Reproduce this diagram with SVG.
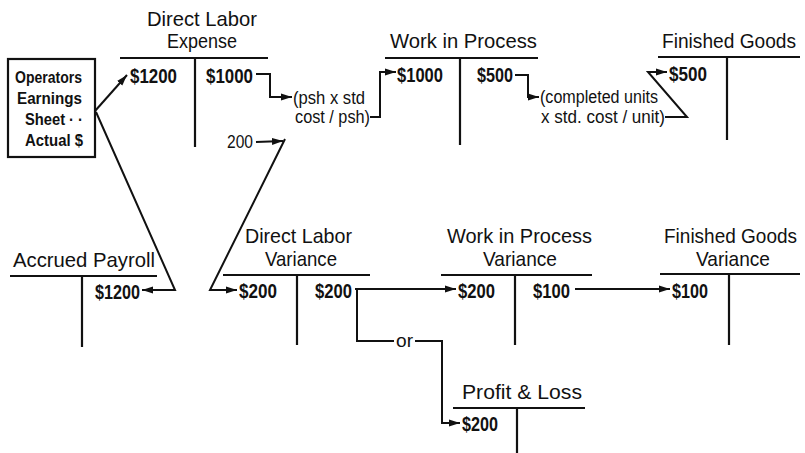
<svg xmlns="http://www.w3.org/2000/svg" width="805" height="453" viewBox="0 0 805 453">
<defs>
<marker id="ah" markerUnits="userSpaceOnUse" markerWidth="12" markerHeight="8" refX="11" refY="4" orient="auto">
<path d="M0,0.5 L11,4 L0,7.5 Z" fill="#111"/>
</marker>
<style>
text{font-family:"Liberation Sans",Arial,sans-serif;fill:#111}
.t{font-size:21px}
.fg{font-size:19.3px}
.v{font-size:21px;font-weight:bold}
.n{font-size:18px}
.b{font-size:17px;font-weight:bold}
.ln{stroke:#111;stroke-width:2.2;fill:none}
.c{stroke:#111;stroke-width:2;fill:none;stroke-linejoin:miter}
.a{marker-end:url(#ah)}
</style>
</defs>
<rect width="805" height="453" fill="#fff"/>

<g id="operators-sheet">
<rect x="8" y="59" width="87" height="98" class="ln"/>
<text class="b" x="15" y="83" textLength="67" lengthAdjust="spacingAndGlyphs">Operators</text>
<text class="b" x="17" y="104" textLength="65" lengthAdjust="spacingAndGlyphs">Earnings</text>
<text class="b" x="25" y="125" textLength="58" lengthAdjust="spacingAndGlyphs">Sheet · ·</text>
<text class="b" x="25" y="146" textLength="58" lengthAdjust="spacingAndGlyphs">Actual $</text>
</g>

<g id="direct-labor-expense">
<text class="t" x="147" y="26" textLength="110" lengthAdjust="spacingAndGlyphs">Direct Labor</text>
<text class="t" x="167" y="48" textLength="70" lengthAdjust="spacingAndGlyphs">Expense</text>
<path class="ln" d="M120,58 H268 M195,58 V147"/>
<text class="v" x="130" y="83" textLength="47" lengthAdjust="spacingAndGlyphs">$1200</text>
<text class="v" x="206" y="83" textLength="47" lengthAdjust="spacingAndGlyphs">$1000</text>
</g>

<g id="work-in-process">
<text class="t" x="390" y="48" textLength="147" lengthAdjust="spacingAndGlyphs">Work in Process</text>
<path class="ln" d="M385,58 H538 M460,58 V145"/>
<text class="v" x="397" y="82" textLength="46" lengthAdjust="spacingAndGlyphs">$1000</text>
<text class="v" x="477" y="82" textLength="36" lengthAdjust="spacingAndGlyphs">$500</text>
</g>

<g id="finished-goods">
<text class="fg" x="662" y="48" textLength="134" lengthAdjust="spacingAndGlyphs">Finished Goods</text>
<path class="ln" d="M658,57 H800 M727,57 V140"/>
<text class="v" x="669" y="81" textLength="38" lengthAdjust="spacingAndGlyphs">$500</text>
</g>

<g id="accrued-payroll">
<text class="t" x="13" y="267" textLength="142" lengthAdjust="spacingAndGlyphs">Accrued Payroll</text>
<path class="ln" d="M10,276 H157 M82,276 V347"/>
<text class="v" x="95" y="299" textLength="45" lengthAdjust="spacingAndGlyphs">$1200</text>
</g>

<g id="direct-labor-variance">
<text class="t" x="245" y="243" textLength="107" lengthAdjust="spacingAndGlyphs">Direct Labor</text>
<text class="t" x="265" y="266" textLength="72" lengthAdjust="spacingAndGlyphs">Variance</text>
<path class="ln" d="M223,275 H370 M297,275 V345"/>
<text class="v" x="239" y="298" textLength="38" lengthAdjust="spacingAndGlyphs">$200</text>
<text class="v" x="315" y="298" textLength="37" lengthAdjust="spacingAndGlyphs">$200</text>
</g>

<g id="wip-variance">
<text class="t" x="447" y="243" textLength="145" lengthAdjust="spacingAndGlyphs">Work in Process</text>
<text class="t" x="483" y="266" textLength="74" lengthAdjust="spacingAndGlyphs">Variance</text>
<path class="ln" d="M441,275 H592 M515,275 V345"/>
<text class="v" x="458" y="298" textLength="37" lengthAdjust="spacingAndGlyphs">$200</text>
<text class="v" x="533" y="298" textLength="37" lengthAdjust="spacingAndGlyphs">$100</text>
</g>

<g id="fg-variance">
<text class="fg" x="664" y="243" textLength="133" lengthAdjust="spacingAndGlyphs">Finished Goods</text>
<text class="t" x="696" y="266" textLength="74" lengthAdjust="spacingAndGlyphs">Variance</text>
<path class="ln" d="M660,274 H800 M729,274 V345"/>
<text class="v" x="672" y="298" textLength="36" lengthAdjust="spacingAndGlyphs">$100</text>
</g>

<g id="profit-loss">
<text class="t" x="462" y="399" textLength="120" lengthAdjust="spacingAndGlyphs">Profit &amp; Loss</text>
<path class="ln" d="M453,408 H585 M517,408 V453"/>
<text class="v" x="462" y="431" textLength="36" lengthAdjust="spacingAndGlyphs">$200</text>
</g>

<g id="connectors">
<path class="c a" d="M95,111 L127,75"/>
<path class="c a" d="M96,112 L175,290 L142,290"/>
<path class="c a" d="M256,74 H270 V97 H292"/>
<path class="c a" d="M370,117 H380 V72 H396"/>
<path class="c a" d="M515,75 H528 V97 H539"/>
<path class="c a" d="M665,117 H687 L648,72 H667"/>
<path class="c a" d="M256,142 L283,141"/>
<path class="c a" d="M285,139 L210,290 H237"/>
<path class="c a" d="M355,289 H456"/>
<path class="c" d="M357,289 V341 H394"/>
<path class="c a" d="M415,341 H442 V423 H460"/>
<path class="c a" d="M575,289 H670"/>
<text class="n" x="293" y="104" textLength="72" lengthAdjust="spacingAndGlyphs">(psh x std</text>
<text class="n" x="295" y="123" textLength="75" lengthAdjust="spacingAndGlyphs">cost / psh)</text>
<text class="n" x="540" y="103" textLength="118" lengthAdjust="spacingAndGlyphs">(completed units</text>
<text class="n" x="541" y="123" textLength="124" lengthAdjust="spacingAndGlyphs">x std. cost / unit)</text>
<text class="n" x="227" y="148" textLength="26" lengthAdjust="spacingAndGlyphs">200</text>
<text class="n" x="396" y="347" textLength="17" lengthAdjust="spacingAndGlyphs">or</text>
</g>
</svg>
